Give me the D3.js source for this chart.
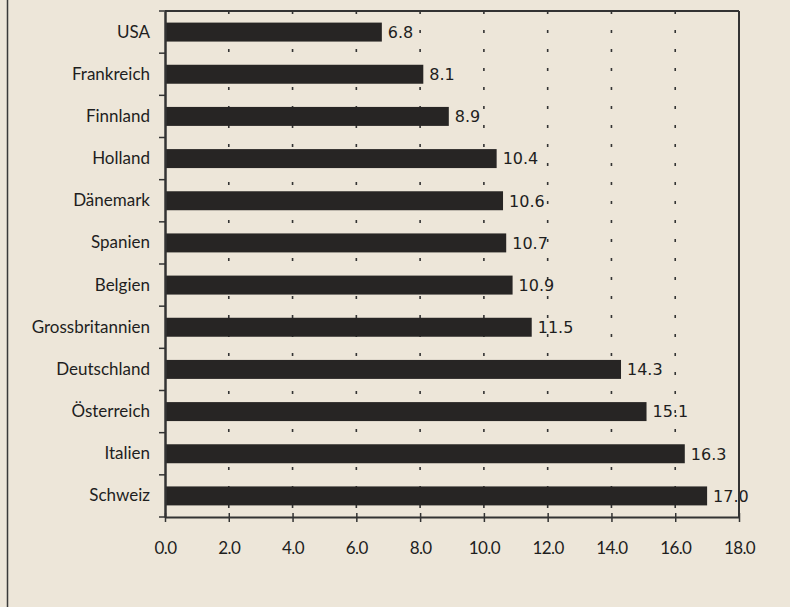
<!DOCTYPE html>
<html><head><meta charset="utf-8">
<script src="https://cdn.jsdelivr.net/npm/d3@7"></script>
<style>
html,body{margin:0;padding:0;background:#ede6d9;}
svg{display:block;}
</style></head>
<body>
<svg id="chart" width="790" height="607"></svg>
<script>
const categories = ["USA","Frankreich","Finnland","Holland","Dänemark","Spanien","Belgien","Grossbritannien","Deutschland","Österreich","Italien","Schweiz"];
const values = [6.8, 8.1, 8.9, 10.4, 10.6, 10.7, 10.9, 11.5, 14.3, 15.1, 16.3, 17.0];
const xTicks = [0,2,4,6,8,10,12,14,16,18];
const xTickLabels = ["0.0","2.0","4.0","6.0","8.0","10.0","12.0","14.0","16.0","18.0"];

const svg = d3.select("#chart");
const W = 790, H = 607;
const m = {left:165, right:790-739, top:11, bottom:607-517};
const iw = W - m.left - m.right, ih = H - m.top - m.bottom;

svg.append("rect").attr("width",W).attr("height",H).attr("fill","#ede6d9");
// left frame line
svg.append("line").attr("x1",7.5).attr("x2",7.5).attr("y1",0).attr("y2",H)
  .attr("stroke","#3a3a3a").attr("stroke-width",1.5);

const g = svg.append("g").attr("transform",`translate(${m.left},${m.top})`);
const x = d3.scaleLinear().domain([0,18]).range([0,iw]);
const y = d3.scaleBand().domain(categories).range([0,ih]).paddingInner(0.55).paddingOuter(0.275);

// dotted gridlines
g.selectAll(".grid").data(xTicks.filter(t=>t>0 && t<18)).join("line")
  .attr("x1",d=>x(d)).attr("x2",d=>x(d)).attr("y1",0).attr("y2",ih)
  .attr("stroke","#333").attr("stroke-width",1.6).attr("stroke-dasharray","3,16");

// bars
g.selectAll(".bar").data(values).join("rect")
  .attr("x",0).attr("y",(d,i)=>y(categories[i]))
  .attr("width",d=>x(d)).attr("height",y.bandwidth())
  .attr("fill","#272524");

// value labels
g.selectAll(".val").data(values).join("text")
  .attr("x",d=>x(d)+6).attr("y",(d,i)=>y(categories[i])+y.bandwidth()/2)
  .attr("dy","0.36em")
  .style("font-family","'DejaVu Sans', sans-serif").style("font-size","16px")
  .attr("fill","#1e1e1e")
  .text(d=>d.toFixed(1));

// frame top/right
g.append("line").attr("x1",0).attr("x2",iw).attr("y1",0).attr("y2",0).attr("stroke","#333").attr("stroke-width",2);
g.append("line").attr("x1",iw).attr("x2",iw).attr("y1",0).attr("y2",ih).attr("stroke","#333").attr("stroke-width",2);

// x axis
const xAxis = d3.axisBottom(x).tickValues(xTicks).tickFormat((d,i)=>xTickLabels[i]).tickSizeInner(5).tickSizeOuter(0).tickPadding(20);
const xg = g.append("g").attr("transform",`translate(0,${ih})`).call(xAxis);
xg.select(".domain").attr("stroke","#333").attr("stroke-width",2);
xg.selectAll(".tick line").attr("stroke","#333").attr("stroke-width",1.5).attr("y1",-4);
xg.selectAll(".tick text").style("font-family","Lato, sans-serif").style("font-size","17px")
  .style("letter-spacing","-0.6px").attr("fill","#1e1e1e");

// y axis
const yAxis = d3.axisLeft(y).tickSize(0).tickPadding(15);
const yg = g.append("g").call(yAxis);
yg.select(".domain").attr("stroke","#333").attr("stroke-width",2.5);
yg.selectAll(".tick text").style("font-family","Lato, sans-serif").style("font-size","17px")
  .style("letter-spacing","0px").attr("fill","#1e1e1e");
// y band boundary ticks
const step = y.step();
const bounds = d3.range(categories.length+1).map(i=>i===0?0:(i===categories.length?ih:y(categories[i-1])+y.bandwidth()+ (step-y.bandwidth())/2));
g.selectAll(".ytk").data(bounds).join("line")
  .attr("x1",-6).attr("x2",0).attr("y1",d=>d).attr("y2",d=>d)
  .attr("stroke","#333").attr("stroke-width",1.5);
</script>
</body></html>
